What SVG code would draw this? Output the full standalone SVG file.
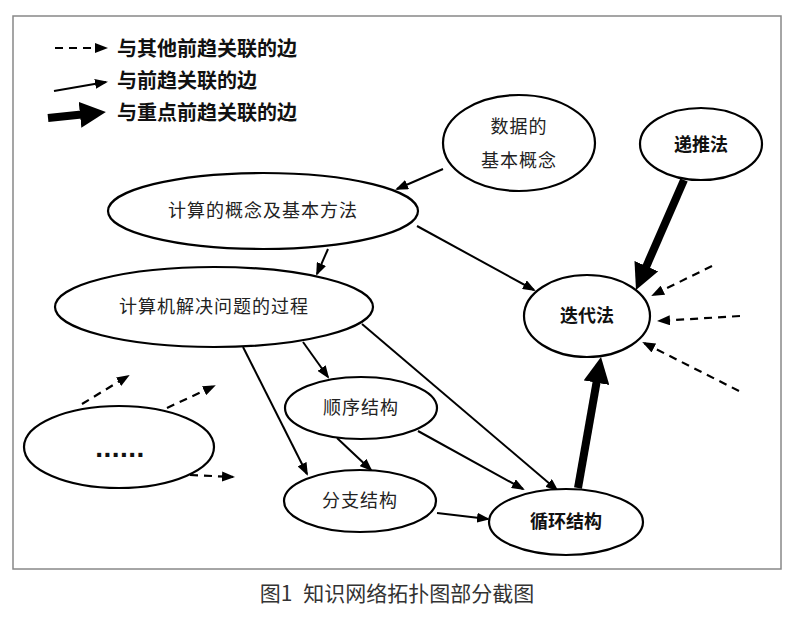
<svg xmlns="http://www.w3.org/2000/svg" width="800" height="636" viewBox="0 0 800 636">
<defs>
<style>
.node ellipse{fill:#fff;stroke:#000;stroke-width:2.2}
.t{font-family:"Noto Sans CJK SC","Liberation Sans",sans-serif;font-size:18px;fill:#222;text-anchor:middle;letter-spacing:1px}
.tb{font-family:"Noto Sans CJK SC","Liberation Sans",sans-serif;font-size:18px;font-weight:bold;fill:#111;text-anchor:middle}
.lg{font-family:"Noto Sans CJK SC","Liberation Sans",sans-serif;font-size:20px;font-weight:bold;fill:#111}
.thin{stroke:#000;stroke-width:2;fill:none;marker-end:url(#ah)}
.dash{stroke:#000;stroke-width:2.2;fill:none;stroke-dasharray:8 6;marker-end:url(#ah)}
.thick{stroke:#000;stroke-width:8;fill:none;marker-end:url(#ahb)}
</style>
<marker id="ah" markerUnits="userSpaceOnUse" markerWidth="13" markerHeight="10" refX="11" refY="5" orient="auto">
<path d="M0,0 L13,5 L0,10 z" fill="#000" stroke="none"/>
</marker>
<marker id="ahb" markerUnits="userSpaceOnUse" markerWidth="27" markerHeight="26" refX="4" refY="13" orient="auto">
<path d="M0,0 L26,13 L0,26 z" fill="#000" stroke="none"/>
</marker>
</defs>
<rect x="13" y="16" width="768" height="553" fill="#fff" stroke="#888" stroke-width="1.5"/>

<g id="legend">
<line class="dash" x1="55" y1="48" x2="106" y2="48"/>
<text class="lg" x="117" y="56">与其他前趋关联的边</text>
<line class="thin" x1="54" y1="91" x2="106" y2="82"/>
<text class="lg" x="117" y="88">与前趋关联的边</text>
<line class="thick" x1="48" y1="118" x2="84" y2="114.3"/>
<text class="lg" x="117" y="120">与重点前趋关联的边</text>
</g>

<g id="connectors">
<line class="thin" x1="443" y1="169" x2="397" y2="189"/>
<line class="thin" x1="417" y1="226" x2="534" y2="290"/>
<line class="thick" x1="684" y1="180" x2="644.8" y2="269.8"/>
<line class="dash" x1="712" y1="266" x2="653" y2="295"/>
<line class="dash" x1="740" y1="316" x2="659" y2="321"/>
<line class="dash" x1="739" y1="391" x2="644" y2="343"/>
<line class="thin" x1="328" y1="249" x2="317" y2="274"/>
<line class="thin" x1="303" y1="342" x2="328" y2="377"/>
<line class="thin" x1="243" y1="347" x2="307" y2="474"/>
<line class="thin" x1="362" y1="324" x2="557" y2="490"/>
<line class="thin" x1="337" y1="438" x2="371" y2="470"/>
<line class="thin" x1="418" y1="431" x2="523" y2="489"/>
<line class="thin" x1="437" y1="513" x2="488" y2="519"/>
<line class="thick" x1="578" y1="488" x2="597.2" y2="378.7"/>
<line class="dash" x1="82" y1="404" x2="128" y2="376"/>
<line class="dash" x1="167" y1="408" x2="214" y2="386"/>
<line class="dash" x1="190" y1="475" x2="233" y2="477"/>
</g>

<g id="n_data" class="node">
<ellipse cx="519" cy="143" rx="76" ry="48"/>
<text class="t" x="519" y="133">数据的</text>
<text class="t" x="519" y="167">基本概念</text>
</g>
<g id="n_ditui" class="node">
<ellipse cx="701" cy="144" rx="61" ry="36"/>
<text class="tb" x="701" y="151">递推法</text>
</g>
<g id="n_diedai" class="node">
<ellipse cx="587" cy="316" rx="63" ry="41"/>
<text class="tb" x="587" y="322">迭代法</text>
</g>
<g id="n_concept" class="node">
<ellipse cx="263" cy="211" rx="155" ry="38"/>
<text class="t" x="263" y="217">计算的概念及基本方法</text>
</g>
<g id="n_process" class="node">
<ellipse cx="214" cy="307" rx="159" ry="40"/>
<text class="t" x="214" y="313">计算机解决问题的过程</text>
</g>
<g id="n_more" class="node">
<ellipse cx="119" cy="447" rx="95" ry="41"/>
<text x="120" y="457" font-family="Liberation Sans, sans-serif" font-size="28" font-weight="bold" fill="#111" text-anchor="middle" letter-spacing="0.5">......</text>
</g>
<g id="n_seq" class="node">
<ellipse cx="361" cy="408" rx="76" ry="31"/>
<text class="t" x="361" y="414">顺序结构</text>
</g>
<g id="n_branch" class="node">
<ellipse cx="360" cy="501" rx="76" ry="31"/>
<text class="t" x="360" y="507">分支结构</text>
</g>
<g id="n_loop" class="node">
<ellipse cx="566" cy="522" rx="77" ry="33"/>
<text class="tb" x="566" y="528">循环结构</text>
</g>

<text x="397" y="601" font-family="Noto Sans CJK SC, Liberation Sans, sans-serif" font-size="21" fill="#333" text-anchor="middle">图1 <tspan dx="6">知识网络拓扑图部分截图</tspan></text>
</svg>
